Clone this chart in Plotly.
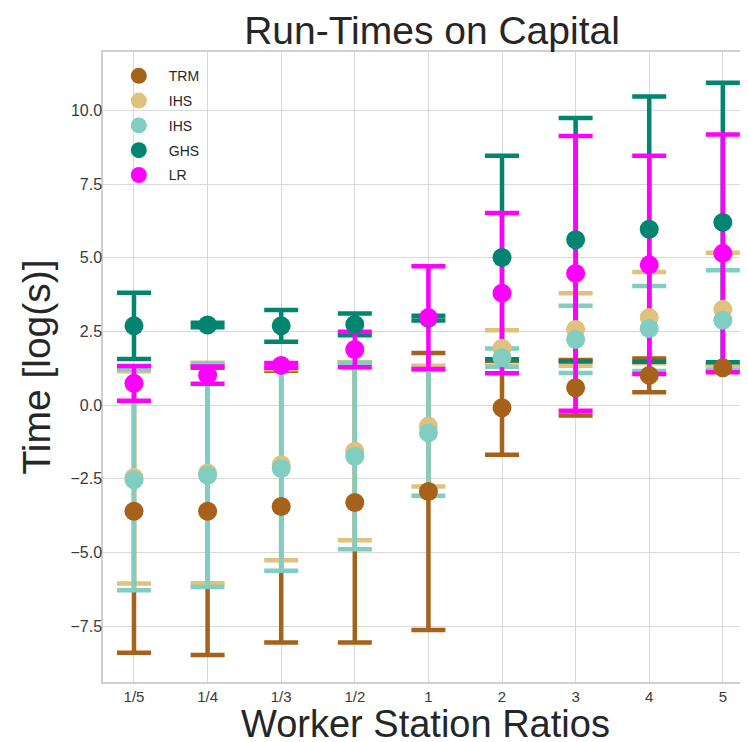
import plotly.graph_objects as go

categories = ["1/5", "1/4", "1/3", "1/2", "1", "2", "3", "4", "5"]

series_names = ["TRM", "IHS", "IHS", "GHS", "LR"]
series_colors = ["#a6611a", "#dfc27d", "#80cdc1", "#018571", "#ff00ff"]

trm_mean = [-3.60, -3.60, -3.44, -3.30, -2.93, -0.09, 0.59, 1.01, 1.27]
trm_err = [4.80, 4.87, 4.61, 4.75, 4.70, 1.59, 0.94, 0.57, 0.10]

ihs_a_mean = [-2.45, -2.30, -2.02, -1.56, -0.71, 1.93, 2.57, 2.97, 3.25]
ihs_a_err = [3.60, 3.74, 3.24, 3.02, 2.05, 0.61, 1.23, 1.55, 1.92]

ihs_b_mean = [-2.53, -2.38, -2.15, -1.73, -0.94, 1.61, 2.23, 2.60, 2.88]
ihs_b_err = [3.75, 3.79, 3.47, 3.16, 2.13, 0.31, 1.14, 1.44, 1.70]

ghs_mean = [2.69, 2.72, 2.69, 2.74, 2.95, 5.01, 5.61, 5.97, 6.20]
ghs_err = [1.12, 0.08, 0.54, 0.37, 0.08, 3.45, 4.13, 4.50, 4.74]

lr_mean = [0.74, 1.02, 1.35, 1.89, 2.97, 3.80, 4.47, 4.76, 5.15]
lr_err = [0.59, 0.29, 0.08, 0.60, 1.74, 2.72, 4.66, 3.70, 4.03]

y_ticks = [-7.5, -5.0, -2.5, 0.0, 2.5, 5.0, 7.5, 10.0]

means = [trm_mean, ihs_a_mean, ihs_b_mean, ghs_mean, lr_mean]
errs = [trm_err, ihs_a_err, ihs_b_err, ghs_err, lr_err]

xpos = list(range(len(categories)))
FONT = "Liberation Sans, Arial, sans-serif"
TXT = "#262626"
TICK = "#3a3a3a"

fig = go.Figure()

# error bars first (below all markers, like matplotlib)
for name, col, m, e in zip(series_names, series_colors, means, errs):
    fig.add_trace(go.Scatter(
        x=xpos, y=m, mode="markers",
        marker=dict(size=1, color=col, opacity=0),
        error_y=dict(type="data", array=e, visible=True, color=col,
                     thickness=4.5, width=17),
        showlegend=False, hoverinfo="skip"))

# markers on top
for i, (name, col, m) in enumerate(zip(series_names, series_colors, means)):
    fig.add_trace(go.Scatter(
        x=xpos, y=m, mode="markers", name=name,
        marker=dict(size=19, color=col),
        legendgroup=f"g{i}"))

fig.update_layout(
    width=740, height=734,
    paper_bgcolor="white", plot_bgcolor="white",
    margin=dict(l=95, r=0, t=44, b=60, autoexpand=False),
    font=dict(family=FONT, color=TXT, size=14),
    title=dict(text="Run-Times on Capital", x=0.573, xanchor="center",
               yref="container", y=0.970, yanchor="middle",
               font=dict(size=39, family=FONT, color=TXT)),
    showlegend=True,
    legend=dict(x=0.009, y=0.987, xanchor="left", yanchor="top",
                bgcolor="rgba(0,0,0,0)", font=dict(size=14, color=TXT),
                tracegroupgap=3.6, itemsizing="trace", itemwidth=50),
    annotations=[dict(text="Worker Station Ratios", xref="paper", yref="paper",
                      x=0.5, y=0, xanchor="center", yanchor="middle",
                      yshift=-42, showarrow=False,
                      font=dict(size=38, family=FONT, color=TXT))],
)

fig.update_xaxes(
    range=[-0.421, 8.342], tickvals=xpos, ticktext=categories,
    showgrid=True, gridcolor="#d9d9d9", gridwidth=1.2,
    showline=True, linecolor="#d0d0d0", linewidth=1.5, mirror=True,
    zeroline=False, ticks="", tickfont=dict(size=15, color=TICK),
    automargin=False,
)
fig.update_yaxes(
    range=[-9.39, 11.98], tickvals=y_ticks,
    tickformat=".1f",
    showgrid=True, gridcolor="#d9d9d9", gridwidth=1.2,
    showline=True, linecolor="#d0d0d0", linewidth=1.5, mirror=True,
    zeroline=False, ticks="", tickfont=dict(size=16, color=TICK),
    ticklabelstandoff=-4,
    automargin=False,
    title=dict(text="Time [log(s)]", font=dict(size=39, color=TXT), standoff=8),
)

fig.write_html("out.html")
